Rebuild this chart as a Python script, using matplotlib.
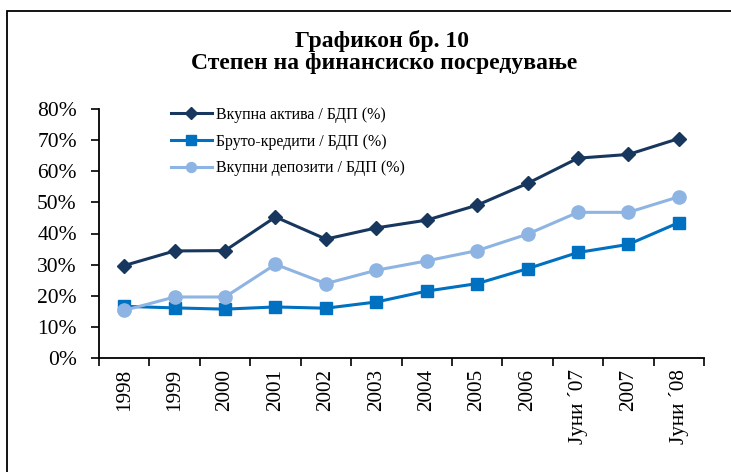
import matplotlib.pyplot as plt
import matplotlib.patches as mpatches
import numpy as np

categories = ['1998', '1999', '2000', '2001', '2002', '2003', '2004', '2005',
              '2006', 'Јуни ´07', '2007', 'Јуни ´08']
aktiva = [29.7, 34.4, 34.5, 45.3, 38.2, 41.8, 44.3, 49.1, 56.1, 64.2, 65.4, 70.5]
krediti = [16.6, 16.1, 15.7, 16.4, 16.0, 18.0, 21.5, 23.9, 28.7, 33.9, 36.5, 43.5]
depoziti = [15.3, 19.6, 19.6, 30.1, 23.9, 28.2, 31.2, 34.5, 39.8, 46.8, 46.8, 51.8]
labels = ['Вкупна актива / БДП (%)', 'Бруто-кредити / БДП (%)', 'Вкупни депозити / БДП (%)']

plt.rcParams['font.family'] = ['Liberation Serif', 'DejaVu Serif']

fig = plt.figure(figsize=(7.31, 4.72), dpi=100)
ax = fig.add_axes([99/731, 1 - 358/472, 605/731, 249/472])

x = np.arange(len(categories))
ax.plot(x, np.array(aktiva) / 100, color='#17375E', lw=2.2, marker='D', ms=7.5, label=labels[0])
ax.plot(x, np.array(krediti) / 100, color='#0070C0', lw=2.2, marker='s', ms=9, label=labels[1])
ax.plot(x, np.array(depoziti) / 100, color='#8DB4E2', lw=2.2, marker='o', ms=9.5, label=labels[2])

ax.set_ylim(0, 0.8)
ax.set_yticks(np.arange(0, 0.81, 0.1))
ax.set_yticklabels([f'{int(round(v * 100))}%' for v in np.arange(0, 0.81, 0.1)], fontsize=15.5)
ax.set_xlim(-0.5, len(categories) - 0.5)
ax.set_xticks(x)
ax.set_xticklabels(categories, rotation=90, fontsize=15.3)
ax.set_xticks(np.arange(-0.5, len(categories), 1), minor=True)
ax.tick_params(axis='x', which='major', length=0, pad=8)
ax.tick_params(axis='x', which='minor', length=6, width=1.2, direction='out')
ax.tick_params(axis='y', length=6, width=1.2, direction='out', pad=10)
for s in ['top', 'right']:
    ax.spines[s].set_visible(False)
for s in ['left', 'bottom']:
    ax.spines[s].set_linewidth(1.3)

leg = ax.legend(loc='upper left', bbox_to_anchor=(0.095, 1.067), frameon=False, fontsize=11.5,
                handlelength=2.55, labelspacing=0.68, handletextpad=0.3, markerscale=0.75)

fig.text(0.523, 1 - 41/472, 'Графикон бр. 10', ha='center', va='center',
         fontsize=17, fontweight='bold')
fig.text(0.525, 1 - 63/472, 'Степен на финансиско посредување', ha='center', va='center',
         fontsize=17, fontweight='bold')

fig.patches.append(mpatches.Rectangle((7/731, -0.05), 1.2, 1 - 11/472 + 0.05, fill=False,
                                      edgecolor='black', lw=1.3, transform=fig.transFigure))

fig.savefig('out.png', dpi=100)
